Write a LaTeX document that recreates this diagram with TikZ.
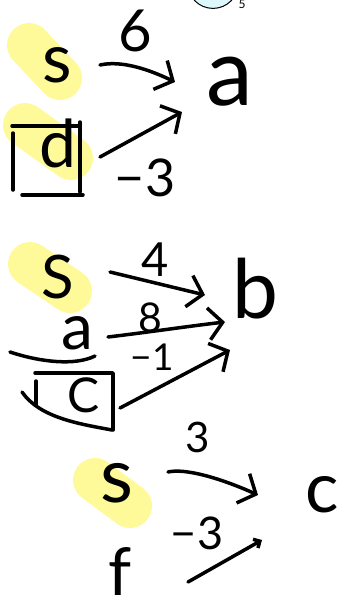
\documentclass[tikz,border=0pt]{standalone}
\usepackage{fontspec}
\setmainfont{Lato}
\usetikzlibrary{arrows.meta, calc}
\definecolor{hlyellow}{HTML}{FFFA99}
\definecolor{bubblecyan}{HTML}{DDF8FC}
\tikzset{
  hw/.style={font=\fontsize{#1}{#1}\selectfont, inner sep=0pt, anchor=center},
  hilite/.style={draw=hlyellow, line width=44pt, line cap=round},
  pen/.style={draw=black, line width=3.5pt, line cap=round, line join=round},
  edge/.style={pen, -{Straight Barb[length=14pt, width=32pt]}},
  smalledge/.style={pen, -{Straight Barb[length=5pt, width=10pt]}},
}

\begin{document}
\begin{tikzpicture}[x=1pt, y=-1pt]
  \useasboundingbox (0,0) rectangle (346,614);
  \clip (0,0) rectangle (346,614);

  % --- bubble cut off at the top ---
  \draw[fill=bubblecyan, line width=1pt] (213,-17) circle (25.4);
  \node[hw=12, font=\fontsize{12}{12}\rmfamily] (fivemark) at (242,4) {5};

  % --- highlights ---
  \draw[hilite] (29,45) -- (60,78);
  \draw[hilite] (25,125) -- (71,158);
  \draw[hilite] (30,264) -- (70,291);
  \draw[hilite] (95,480) -- (130,506);

  % --- group a ---
  \node[hw=68] (s1) at (57,65)  {s};
  \node[hw=94] (a1) at (230,82) {a};
  \node[hw=66] (d1) at (58,143) {d};
  \node[hw=58] (w6) at (135,31) {6};
  \node[hw=52] (wm3) at (145,178) {−3};
  \draw[pen] (12,126) -- (80,126);
  \draw[pen] (13,133) -- (13,190);
  \draw[pen] (80,122) -- (80,192);
  \draw[pen] (22,195) -- (83,195);
  \draw[edge] ($(s1)+(43,0)$) .. controls (122,60) and (150,70) .. ($(a1)+(-55,0)$);
  \draw[edge] ($(d1)+(42,14)$) -- ($(a1)+(-48,30)$);

  % --- group b ---
  \node[hw=60] (s2) at (58,277) {S};
  \node[hw=82] (b1) at (255,289) {b};
  \node[hw=64] (a2) at (77,333) {a};
  \node[hw=48] (c2) at (84,395) {C};
  \node[hw=47] (w4) at (155,260) {4};
  \node[hw=41] (w8) at (150,318) {8};
  \node[hw=37] (wm1) at (152,357) {−1};
  \draw[pen] (10,352) .. controls (40,362) and (75,366) .. (95,356);
  \draw[pen] (35,373) -- (113,373) -- (113,430);
  \draw[pen] (36,381) -- (36,405);
  \draw[pen] (22,392) .. controls (40,418) and (80,424) .. (112,430);
  \draw[edge] ($(s2)+(52,-5)$) -- ($(b1)+(-50,6)$);
  \draw[edge] ($(a2)+(31,4)$) .. controls (150,332) and (190,326) .. ($(b1)+(-30,33)$);
  \draw[edge] ($(c2)+(36,13)$) -- ($(b1)+(-25,61)$);

  % --- group c ---
  \node[hw=76] (s3) at (117,483) {s};
  \node[hw=70] (c1) at (322,495) {c};
  \node[hw=66] (f1) at (120,572) {f};
  \node[hw=42] (w3) at (198,437) {3};
  \node[hw=45] (wm3b) at (197,533) {−3};
  \draw[edge] ($(s3)+(51,-11)$) .. controls (185,468) and (220,478) .. ($(c1)+(-64,0)$);
  \draw[smalledge] ($(f1)+(68,10)$) -- ($(c1)+(-60,45)$);
\end{tikzpicture}
\end{document}
